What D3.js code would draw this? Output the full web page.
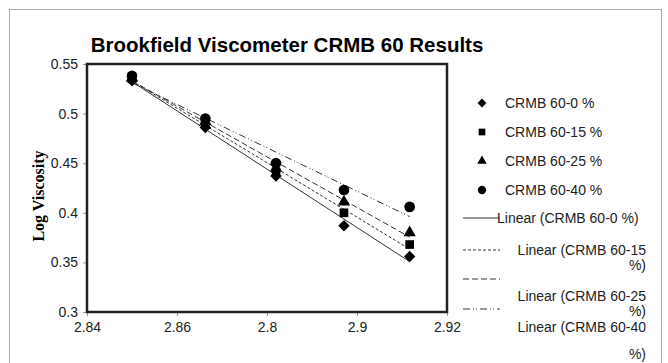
<!DOCTYPE html>
<html lang="en">
<head>
  <meta charset="UTF-8">
  <title>Brookfield Viscometer CRMB 60 Results</title>
  <style>
    body { margin: 0; background: #fff; }
    svg { display: block; font-family: "Liberation Sans", Arial, sans-serif; }
    .tick text { font-size: 14px; fill: #222; }
    .legend text { font-size: 14px; fill: #222; }
  </style>
</head>
<body>
  <svg width="668" height="363"></svg>

  <script src="https://d3js.org/d3.v7.min.js"></script>
  <script>
    // log10 of temperature (Rankine) for 120..180 C
    const logTemp = [2.8500, 2.8663, 2.8820, 2.8971, 2.9117];

    const series0 = [0.533, 0.486, 0.437, 0.387, 0.356];
    const series15 = [0.535, 0.489, 0.441, 0.400, 0.368];
    const series25 = [0.536, 0.492, 0.445, 0.411, 0.380];
    const series40 = [0.538, 0.495, 0.450, 0.423, 0.406];

    const seriesNames = ["CRMB 60-0 %", "CRMB 60-15 %", "CRMB 60-25 %", "CRMB 60-40 %"];
    const symbols = ["diamond", "square", "triangle", "circle"];
    const dashes = [null, "3,2", "6,3", "7,3,1,2,1,3"];

    const xTicks = [2.84, 2.86, 2.88, 2.90, 2.92];
    const xTickLabels = ["2.84", "2.86", "2.8", "2.9", "2.92"];
    const yTicks = [0.3, 0.35, 0.4, 0.45, 0.5, 0.55];

    const allSeries = [series0, series15, series25, series40];

    const svg = d3.select("svg");

    // outer chart frame (bottom runs off the picture)
    svg.append("rect")
      .attr("x", 9.5).attr("y", 9.5)
      .attr("width", 652).attr("height", 380)
      .attr("fill", "none").attr("stroke", "#aaa");

    const plotL = 87, plotR = 447, plotT = 64, plotB = 312;

    const x = d3.scaleLinear().domain([2.84, 2.92]).range([plotL, plotR]);
    const y = d3.scaleLinear().domain([0.3, 0.55]).range([plotB, plotT]);

    svg.append("text")
      .attr("x", 287).attr("y", 52)
      .attr("text-anchor", "middle")
      .style("font-size", "20.5px").style("font-weight", "bold")
      .text("Brookfield Viscometer CRMB 60 Results");

    svg.append("text")
      .attr("transform", `translate(44,${(plotT + plotB) / 2 + 8}) rotate(-90)`)
      .attr("text-anchor", "middle")
      .style("font-family", "'Liberation Serif', 'Times New Roman', serif")
      .style("font-size", "16px").style("font-weight", "bold")
      .text("Log Viscosity");

    // axes
    const xAxis = d3.axisBottom(x).tickValues(xTicks)
      .tickFormat((d, i) => xTickLabels[i]).tickSize(4).tickPadding(6);
    const yAxis = d3.axisLeft(y).tickValues(yTicks)
      .tickFormat(d3.format("")).tickSize(4).tickPadding(5);

    const gx = svg.append("g").attr("transform", `translate(0,${plotB})`).call(xAxis);
    const gy = svg.append("g").attr("transform", `translate(${plotL},0)`).call(yAxis);
    [gx, gy].forEach(g => {
      g.select(".domain").remove();
      g.selectAll(".tick line").attr("stroke", "#999");
    });

    // plot border
    svg.append("rect")
      .attr("x", plotL).attr("y", plotT)
      .attr("width", plotR - plotL).attr("height", plotB - plotT)
      .attr("fill", "none").attr("stroke", "#222").attr("stroke-width", 2.5);

    // trend lines (least squares, like the spreadsheet trendline)
    function fit(ys) {
      const mx = d3.mean(logTemp), my = d3.mean(ys);
      let num = 0, den = 0;
      logTemp.forEach((xv, i) => { num += (xv - mx) * (ys[i] - my); den += (xv - mx) ** 2; });
      const b = num / den;
      return xv => my + b * (xv - mx);
    }

    const xEnds = d3.extent(logTemp);
    allSeries.forEach((ys, k) => {
      const f = fit(ys);
      svg.append("line")
        .attr("x1", x(xEnds[0])).attr("y1", y(f(xEnds[0])))
        .attr("x2", x(xEnds[1])).attr("y2", y(f(xEnds[1])))
        .attr("stroke", "#333").attr("stroke-width", 1)
        .attr("stroke-dasharray", dashes[k]);
    });

    // square-ish diamond like the spreadsheet marker
    const wideDiamond = {
      draw(ctx, size) {
        const r = Math.sqrt(size / 2);
        ctx.moveTo(0, -r); ctx.lineTo(r, 0); ctx.lineTo(0, r); ctx.lineTo(-r, 0); ctx.closePath();
      }
    };
    const symbolType = {
      diamond: wideDiamond, square: d3.symbolSquare,
      triangle: d3.symbolTriangle, circle: d3.symbolCircle
    };
    const symbolSize = { diamond: 65, square: 75, triangle: 65, circle: 90 };

    allSeries.forEach((ys, k) => {
      const s = symbols[k];
      svg.append("g").selectAll("path")
        .data(ys)
        .join("path")
        .attr("transform", (d, i) => `translate(${x(logTemp[i])},${y(d)})`)
        .attr("d", d3.symbol().type(symbolType[s]).size(symbolSize[s]))
        .attr("fill", "#000");
    });

    // legend
    const legend = svg.append("g").attr("class", "legend");
    const markerRows = [103, 132, 161, 190];
    seriesNames.forEach((name, k) => {
      const s = symbols[k];
      legend.append("path")
        .attr("transform", `translate(482,${markerRows[k]})`)
        .attr("d", d3.symbol().type(symbolType[s]).size(symbolSize[s] * 0.6))
        .attr("fill", "#000");
      legend.append("text")
        .attr("x", 505).attr("y", markerRows[k] + 5)
        .text(name);
    });

    const lineRows = [218, 250, 279, 309];
    lineRows.forEach((ly, k) => {
      legend.append("line")
        .attr("x1", 463).attr("x2", 500).attr("y1", ly).attr("y2", ly)
        .attr("stroke", "#333").attr("stroke-width", 1)
        .attr("stroke-dasharray", dashes[k]);
    });

    legend.append("text").attr("x", 497).attr("y", 223)
      .text("Linear (" + seriesNames[0] + ")");
    const wrapped = [[255, 270], [301, 316], [332, 359]];
    wrapped.forEach((rows, j) => {
      const name = seriesNames[j + 1];
      const parts = name.split(" %");
      legend.append("text").attr("x", 646).attr("y", rows[0])
        .attr("text-anchor", "end").text("Linear (" + parts[0]);
      legend.append("text").attr("x", 646).attr("y", rows[1])
        .attr("text-anchor", "end").text("%)");
    });
  </script>
</body>
</html>
